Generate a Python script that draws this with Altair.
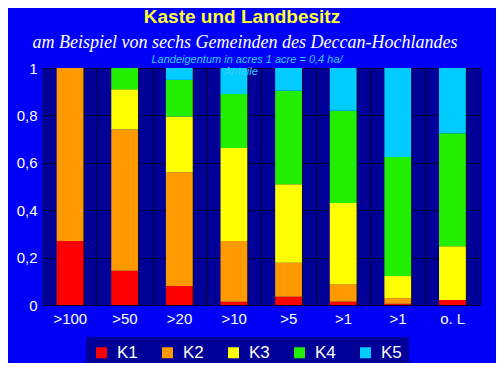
import altair as alt
import pandas as pd

# ---- data ----
categories = [">100", ">50", ">20", ">10", ">5", ">1", ">1", "o. L"]
series_names = ["K1", "K2", "K3", "K4", "K5"]
K1 = [0.27, 0.145, 0.08, 0.014, 0.035, 0.014, 0.005, 0.021]
K2 = [0.73, 0.595, 0.48, 0.256, 0.143, 0.074, 0.024, 0.0]
K3 = [0.0, 0.17, 0.235, 0.392, 0.331, 0.342, 0.093, 0.227]
K4 = [0.0, 0.09, 0.155, 0.228, 0.395, 0.39, 0.502, 0.477]
K5 = [0.0, 0.0, 0.05, 0.11, 0.096, 0.18, 0.376, 0.275]
series_values = [K1, K2, K3, K4, K5]
colors = ["#ff0000", "#ff9900", "#ffff00", "#22ee00", "#00ccff"]
y_ticks = [0, 0.2, 0.4, 0.6, 0.8, 1]

title_main = "Kaste und Landbesitz"
title_sub = "am Beispiel von sechs Gemeinden des Deccan-Hochlandes"
note_1 = "Landeigentum in acres 1 acre = 0,4 ha/"
note_2 = "Anteile"

rows = []
for si, (name, vals) in enumerate(zip(series_names, series_values)):
    for ci, v in enumerate(vals):
        rows.append({"key": ci, "series": name, "order": si, "value": v})
df = pd.DataFrame(rows)
cat_df = pd.DataFrame({"key": list(range(len(categories)))})

label_expr = "[" + ",".join("'" + c + "'" for c in categories) + "][datum.value]"

BG = "#0000f8"
NAVY = "#000099"
DARK = "#000030"

x_enc = alt.X(
    "key:O",
    scale=alt.Scale(paddingInner=0, paddingOuter=0),
    axis=alt.Axis(
        title=None, labelExpr=label_expr, labelAngle=0, labelColor="white",
        labelFont="Liberation Sans", labelFontSize=15, labelPadding=6,
        ticks=False, domainColor=DARK, grid=True, gridColor=DARK,
        gridOpacity=1, bandPosition=0,
    ),
)

bars = alt.Chart(df).mark_bar(width={"band": 0.5}).encode(
    x=x_enc,
    y=alt.Y(
        "value:Q", stack="zero",
        scale=alt.Scale(domain=[0, 1], nice=False),
        axis=alt.Axis(
            title=None, values=y_ticks, labelColor="white",
            labelFont="Liberation Sans", labelFontSize=15, labelPadding=6,
            ticks=False, domainColor=DARK, gridColor=DARK, gridOpacity=1,
            labelExpr="datum.value == 0 ? '0' : datum.value == 1 ? '1' : replace(format(datum.value, '.1f'), '.', ',')",
        ),
    ),
    color=alt.Color(
        "series:N",
        scale=alt.Scale(domain=series_names, range=colors),
        legend=alt.Legend(
            orient="none", legendX=43, legendY=269, direction="horizontal",
            title=None, fillColor=NAVY, padding=7, symbolType="square",
            symbolSize=121, symbolStrokeWidth=0, symbolOpacity=1,
            labelColor="white", labelFont="Liberation Sans", labelFontSize=17,
            labelOffset=7, columnPadding=21,
        ),
    ),
    order=alt.Order("order:Q", sort="ascending"),
)

edges = alt.Chart(cat_df).mark_rule(color=DARK, strokeWidth=1).encode(
    x=alt.X("key:O", bandPosition=0.75),
    y=alt.value(0),
    y2=alt.value(237),
)

def text_layer(txt, x, y, size, color, font, style="normal", weight="normal"):
    return alt.Chart(pd.DataFrame({"t": [txt]})).mark_text(
        fontSize=size, color=color, font=font, fontStyle=style,
        fontWeight=weight, align="center", baseline="alphabetic",
    ).encode(text="t:N", x=alt.value(x), y=alt.value(y))

t1 = text_layer(title_main, 199, -45, 19, "#ffff33", "Liberation Sans", weight="bold")
t2 = text_layer(title_sub, 202, -20, 18, "white", "Liberation Serif", style="italic")
t3 = text_layer(note_1, 204, -5, 11, "#33ccff", "Liberation Sans Narrow, Liberation Sans", style="italic")
t4 = text_layer(note_2, 198, 7, 11, "#33ccff", "Liberation Sans Narrow, Liberation Sans", style="italic")

chart = alt.layer(bars, edges, t1, t2, t3, t4).properties(
    width=437, height=237,
    padding={"left": 35, "top": 60, "right": 16, "bottom": 58},
    autosize=alt.AutoSizeParams(type="none"),
    background=BG,
).configure_view(fill=NAVY, stroke=DARK, strokeWidth=1)

chart.save("out.html", embed_options={"renderer": "svg", "actions": False})
